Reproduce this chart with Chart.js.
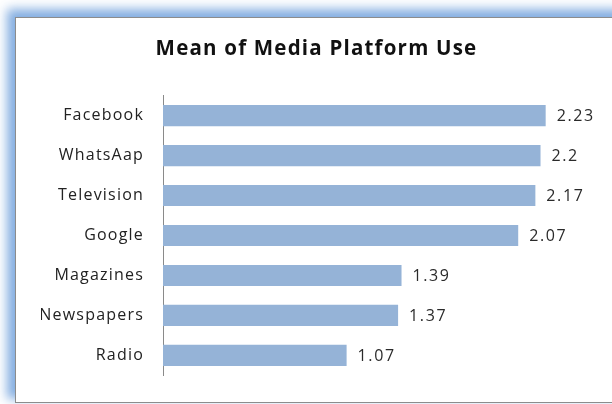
<!DOCTYPE html>
<html>
<head>
<meta charset="utf-8">
<script src="https://cdn.jsdelivr.net/npm/chart.js@4.4.1/dist/chart.umd.min.js"></script>
<style>
    html, body { margin: 0; padding: 0; background: #fff; }
    #wrap { position: relative; width: 612px; height: 404px; overflow: hidden; }
    #panel {
        position: absolute; left: 15px; top: 17px; width: 620px; height: 384px;
        background: #fff; border: 1px solid #8c8c8c;
        box-shadow: -6px -6px 10px 2px rgba(110, 160, 220, 0.85);
    }
    #myChart { position: absolute; left: 15px; top: 0; }
</style>
</head>
<body>
<div id="wrap">
    <div id="panel"></div>
    <canvas id="myChart" width="602" height="404"></canvas>
</div>
<script>
const chartTitle = 'Mean of Media Platform Use';
const platforms = ['Facebook', 'WhatsAap', 'Television', 'Google', 'Magazines', 'Newspapers', 'Radio'];
const meanValues = [2.23, 2.2, 2.17, 2.07, 1.39, 1.37, 1.07];
const axisMax = 2.5;

// excel spreads its letters a bit, canvas can do the same
const spacing = {
    id: 'spacing',
    beforeDraw(chart) {
        chart.ctx.letterSpacing = '1.2px';
    }
};

// draws the value next to every bar
const valueLabels = {
    id: 'valueLabels',
    afterDatasetsDraw(chart) {
        const ctx = chart.ctx;
        const meta = chart.getDatasetMeta(0);
        ctx.save();
        ctx.font = '16px "Open Sans"';
        ctx.letterSpacing = '1.6px';
        ctx.fillStyle = '#2a2a2a';
        ctx.textBaseline = 'middle';
        ctx.textAlign = 'left';
        meta.data.forEach((bar, i) => {
            ctx.fillText(String(meanValues[i]), bar.x + 11, bar.y + 1);
        });
        ctx.restore();
    }
};

let ctx = document.getElementById('myChart');
new Chart(ctx, {
    type: 'bar',
    data: {
        labels: platforms,
        datasets: [{
            data: meanValues,
            backgroundColor: '#95b3d7',
            borderWidth: 0,
            barPercentage: 0.53,
            categoryPercentage: 1
        }]
    },
    options: {
        indexAxis: 'y',
        responsive: false,
        animation: false,
        layout: { padding: { top: 0, right: 25, bottom: 25, left: 26 } },
        plugins: {
            legend: { display: false },
            tooltip: { enabled: false },
            title: {
                display: true,
                text: chartTitle,
                color: '#111',
                font: { family: 'Open Sans', size: 20.5, weight: 'bold', lineHeight: 1.2 },
                padding: { top: 37, bottom: 34 }
            }
        },
        scales: {
            x: { display: false, min: 0, max: axisMax },
            y: {
                afterFit(scale) { scale.width = 122; },
                grid: { display: false, drawTicks: false },
                border: { display: true, color: '#8a8a8a', width: 1 },
                ticks: {
                    padding: 19,
                    color: '#222',
                    font: { family: 'Open Sans', size: 16 }
                }
            }
        }
    },
    plugins: [spacing, valueLabels]
});
</script>
</body>
</html>
